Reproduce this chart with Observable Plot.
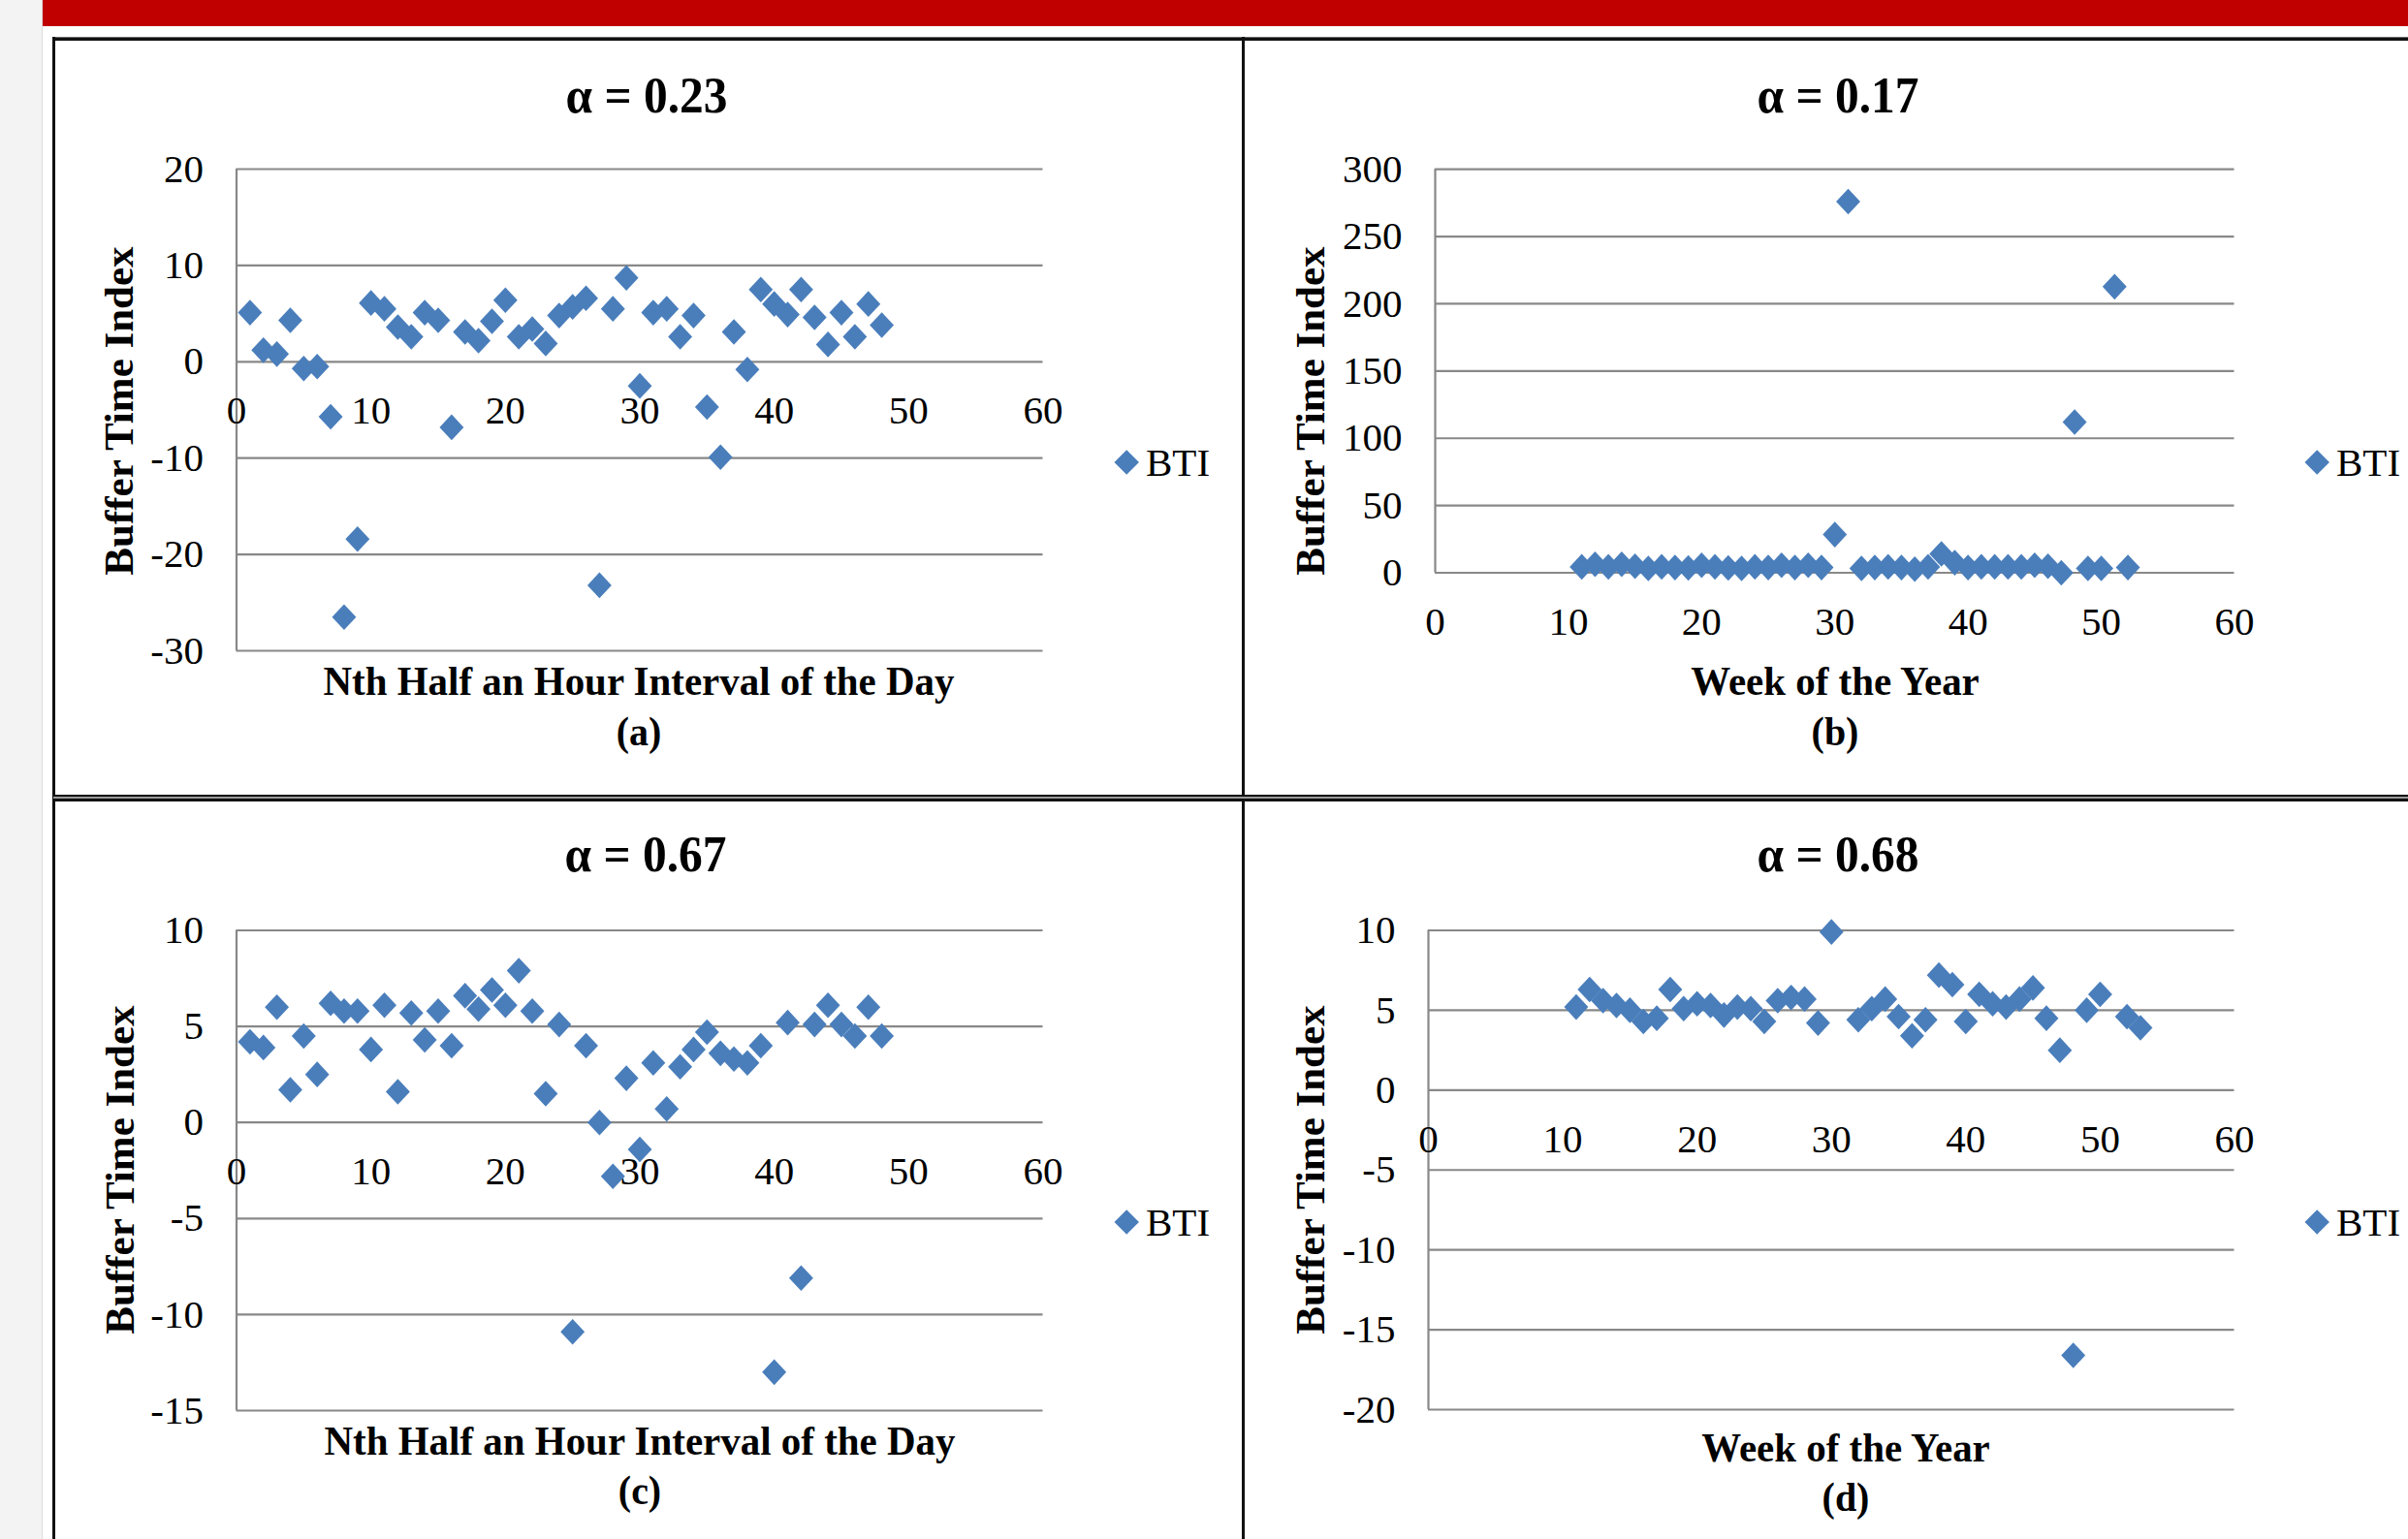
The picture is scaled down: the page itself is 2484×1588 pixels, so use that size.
<!DOCTYPE html>
<html>
<head>
<meta charset="utf-8">
<script src="https://cdn.jsdelivr.net/npm/d3@7"></script>
<script src="https://cdn.jsdelivr.net/npm/@observablehq/plot@0.6"></script>
<style>
  html, body { margin: 0; padding: 0; background: #fff; width: 2484px; height: 1588px; overflow: hidden; position: relative; }
  .abs { position: absolute; }
  .lbl { position: absolute; line-height: 1; white-space: nowrap; font-family: 'Liberation Serif', 'Times New Roman', serif; color: #000; }
</style>
</head>
<body>
<script>
// ---------- DATA ----------
const xTickValues = [0, 10, 20, 30, 40, 50, 60];

// (a) alpha = 0.23, Nth half-hour interval of the day
const intervalsA = d3.range(1, 49);
const btiA = [5.1, 1.2, 0.8, 4.3, -0.7, -0.5, -5.7, -26.5, -18.4, 6.1,
              5.5, 3.6, 2.6, 5.1, 4.3, -6.8, 3.1, 2.2, 4.2, 6.4,
              2.6, 3.4, 1.9, 4.8, 5.7, 6.6, -23.2, 5.5, 8.7, -2.5,
              5.1, 5.5, 2.6, 4.8, -4.7, -9.9, 3.1, -0.8, 7.5, 6.0,
              4.9, 7.5, 4.6, 1.8, 5.1, 2.6, 6.0, 3.8];
const yTicksA = [20, 10, 0, -10, -20, -30];

// (b) alpha = 0.17, week of the year
const weeksB = d3.range(11, 53);
const btiB = [4.4, 6.3, 4.4, 6.3, 4.9, 3.2, 4.4, 3.9, 3.6, 5.6,
              4.4, 3.6, 3.2, 4.4, 3.9, 5.6, 3.9, 5.6, 3.9, 28.4,
              276, 3.2, 3.9, 4.4, 3.9, 2.7, 4.4, 14.1, 7.5, 3.9,
              4.4, 4.4, 4.4, 4.4, 5.6, 4.9, 0.0, 112, 3.2, 3.2,
              212.7, 3.9];
const yTicksB = [300, 250, 200, 150, 100, 50, 0];

// (c) alpha = 0.67, Nth half-hour interval of the day
const intervalsC = d3.range(1, 49);
const btiC = [4.2, 3.9, 6.0, 1.7, 4.5, 2.5, 6.2, 5.8, 5.8, 3.8,
              6.1, 1.6, 5.7, 4.3, 5.8, 4.0, 6.6, 5.9, 6.9, 6.1,
              7.9, 5.8, 1.5, 5.1, -10.9, 4.0, 0.0, -2.8, 2.3, -1.4,
              3.1, 0.7, 2.9, 3.8, 4.7, 3.6, 3.3, 3.1, 4.0, -13.0,
              5.2, -8.1, 5.1, 6.1, 5.1, 4.5, 6.0, 4.5];
const yTicksC = [10, 5, 0, -5, -10, -15];

// (d) alpha = 0.68, week of the year
const weeksD = [11, 12, 13, 14, 15, 16, 17, 18, 19, 20, 21, 22, 23, 24, 25, 26, 27, 28, 29, 30,
                32, 33, 34, 35, 36, 37, 38, 39, 40, 41, 42, 43, 44, 45, 46, 47, 48, 49, 50,
                52, 53];
const btiD = [5.2, 6.3, 5.6, 5.3, 5.0, 4.3, 4.5, 6.3, 5.1, 5.4,
              5.3, 4.7, 5.2, 5.1, 4.3, 5.6, 5.8, 5.7, 4.2, 9.9,
              4.4, 5.1, 5.7, 4.6, 3.4, 4.4, 7.2, 6.6, 4.3, 6.0,
              5.4, 5.2, 5.7, 6.4, 4.5, 2.5, -16.6, 5.0, 6.0,
              4.6, 3.9];
const yTicksD = [10, 5, 0, -5, -10, -15, -20];

const titles = ["α = 0.23", "α = 0.17", "α = 0.67", "α = 0.68"];
const xTitles = ["Nth Half an Hour Interval of the Day", "Week of the Year", "Nth Half an Hour Interval of the Day", "Week of the Year"];
const subLabels = ["(a)", "(b)", "(c)", "(d)"];
const yTitle = "Buffer Time Index";
const seriesName = "BTI";

// ---------- STYLE ----------
const BLUE = "#4a7ebb";
const GRID = "#888888";
const SERIF = "'Liberation Serif', 'Times New Roman', serif";

// diamond symbol, slightly taller than wide
const diamond = {
  draw(ctx, size) {
    const s = Math.sqrt(size);
    const w = s * 0.585, h = s * 0.625;
    ctx.moveTo(0, -h); ctx.lineTo(w, 0); ctx.lineTo(0, h); ctx.lineTo(-w, 0); ctx.closePath();
  }
};

function box(left, top, width, height, bg) {
  const d = document.createElement("div");
  d.className = "abs";
  Object.assign(d.style, {left: left + "px", top: top + "px", width: width + "px", height: height + "px", background: bg});
  document.body.appendChild(d);
  return d;
}

function label(txt, cx, cy, size, bold, mode, sx) {
  const d = document.createElement("div");
  d.className = "lbl";
  d.textContent = txt;
  d.style.left = cx + "px";
  d.style.top = cy + "px";
  d.style.fontSize = size + "px";
  d.style.fontWeight = bold ? "bold" : "normal";
  if (mode === "rot") d.style.transform = "translate(-50%,-50%) rotate(-90deg)";
  else if (mode === "left") d.style.transform = "translate(0,-50%)";
  else d.style.transform = `translate(-50%,-50%) scaleX(${sx || 0.95})`;
  document.body.appendChild(d);
}

// ---------- BACKGROUND / TABLE ----------
box(0, 0, 44, 1588, "#f3f3f3");
box(43, 0, 1, 1588, "#dddddd");
box(44, 0, 2440, 27, "#c00000");
box(55, 38, 2429, 1, "#666");
box(55, 39, 2429, 3, "#111");
box(54, 38, 3, 1550, "#111");
box(1281, 38, 3, 1550, "#111");
box(55, 820, 2429, 2, "#111");
box(55, 822, 2429, 2, "#9a9a9a");
box(55, 824, 2429, 3, "#111");

// ---------- PANELS ----------
function panel(xs, ys, yTicks, yDomain, pos) {
  const data = xs.map((x, i) => ({x, y: ys[i]}));
  const chart = Plot.plot({
    width: pos.width,
    height: pos.height,
    marginLeft: pos.ml,
    marginRight: pos.mr,
    marginTop: pos.mt,
    marginBottom: pos.mb,
    style: {background: "transparent", color: "#000", fontFamily: SERIF, fontSize: "41px", overflow: "visible", maxWidth: "none"},
    x: {domain: [0, 60], axis: null, label: null},
    y: {domain: yDomain, label: null},
    marks: [
      Plot.ruleY(yTicks, {stroke: GRID, strokeWidth: 2.2}),
      Plot.ruleX([0], {stroke: GRID, strokeWidth: 2.2}),
      Plot.axisY(yTicks, {tickSize: 0, tickPadding: 34, tickFormat: d => String(d), fontSize: 41, fill: "#000", label: null}),
      Plot.text(xTickValues, {x: d => d, y: () => 0, dy: 51, text: d => String(d), fontSize: 41, fill: "#000"}),
      Plot.dot(data, {x: "x", y: "y", symbol: diamond, r: 12, fill: BLUE, stroke: "none"})
    ]
  });
  const holder = document.createElement("div");
  holder.className = "abs";
  holder.style.left = pos.left + "px";
  holder.style.top = pos.top + "px";
  holder.appendChild(chart);
  document.body.appendChild(holder);
}

// (a): frame x 243.5..1075.5, y 174..671
panel(intervalsA, btiA, yTicksA, [-30, 20], {left: 60, top: 140, width: 1060, height: 560, ml: 183.5, mr: 44.5, mt: 34, mb: 29});
// (b): frame x 1480..2304.5, y 174.2..590.5
panel(weeksB, btiB, yTicksB, [0, 300], {left: 1290, top: 140, width: 1060, height: 560, ml: 190, mr: 45.5, mt: 34.2, mb: 109.5});
// (c): frame x 243.5..1075.5, y 959.5..1455
panel(intervalsC, btiC, yTicksC, [-15, 10], {left: 60, top: 925, width: 1060, height: 560, ml: 183.5, mr: 44.5, mt: 34.5, mb: 30});
// (d): frame x 1473..2304.5, y 959.5..1454
panel(weeksD, btiD, yTicksD, [-20, 10], {left: 1290, top: 925, width: 1060, height: 560, ml: 183, mr: 45.5, mt: 34.5, mb: 31});

// ---------- TEXT ----------
const titlePos = [[667, 99], [1896, 99], [666, 882], [1896, 882]];
const yTitlePos = [[122, 424], [1351, 424], [123, 1207], [1351, 1207]];
const xTitlePos = [[659, 703], [1893, 703], [660, 1487], [1904, 1494]];
const subPos = [[659, 755], [1893, 755], [660, 1538], [1904, 1545]];
const legendPos = [[1162, 477], [2390, 477], [1162, 1261], [2390, 1261]];

for (let i = 0; i < 4; i++) {
  label(titles[i], titlePos[i][0], titlePos[i][1], 52, true);
  label(yTitle, yTitlePos[i][0], yTitlePos[i][1], 43, true, "rot");
  label(xTitles[i], xTitlePos[i][0], xTitlePos[i][1], 42, true, null, 0.975);
  label(subLabels[i], subPos[i][0], subPos[i][1], 42, true);
  // legend marker
  const m = box(legendPos[i][0] - 9.2, legendPos[i][1] - 9.2, 18.4, 18.4, BLUE);
  m.style.transform = "rotate(45deg)";
  label(seriesName, legendPos[i][0] + 20, legendPos[i][1], 41, false, "left");
}
</script>
</body>
</html>
